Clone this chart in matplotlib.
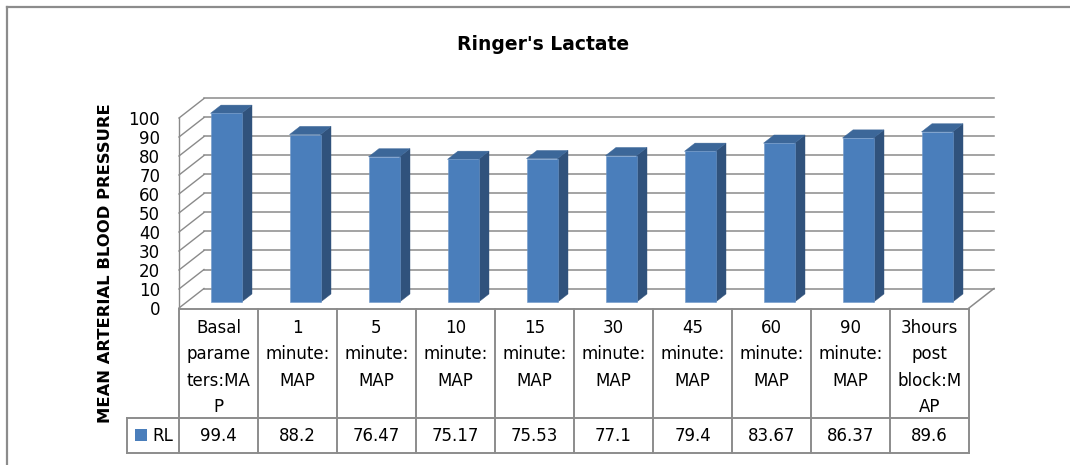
import matplotlib
matplotlib.use('Agg')
import matplotlib.pyplot as plt
from matplotlib.patches import Polygon, Rectangle
from matplotlib.lines import Line2D
from matplotlib.transforms import blended_transform_factory, IdentityTransform

# ---------------- data ----------------
categories = ["Basal\nparame\nters:MA\nP", "1\nminute:\nMAP", "5\nminute:\nMAP",
              "10\nminute:\nMAP", "15\nminute:\nMAP", "30\nminute:\nMAP",
              "45\nminute:\nMAP", "60\nminute:\nMAP", "90\nminute:\nMAP",
              "3hours\npost\nblock:M\nAP"]
values = [99.4, 88.2, 76.47, 75.17, 75.53, 77.1, 79.4, 83.67, 86.37, 89.6]
value_labels = ["99.4", "88.2", "76.47", "75.17", "75.53", "77.1", "79.4",
                "83.67", "86.37", "89.6"]
series_name = "RL"
title = "Ringer's Lactate"
ylabel = "MEAN ARTERIAL BLOOD PRESSURE"
yticks = list(range(0, 101, 10))

# ---------------- styling ----------------
W, H = 1070, 465
FRONT = '#4a7ebb'
TOP = '#3c6799'
SIDE = '#30527c'
GRID = '#8a8a8a'
BORDER = '#8c8c8c'

fig = plt.figure(figsize=(W / 100, H / 100), dpi=100)
fig.patch.set_facecolor('white')

# plotting axes: x categories, y values (front plane)
left_px, right_px, zero_px, top_px = 179, 969, 308, 118
ax = fig.add_axes([left_px / W, (H - zero_px) / H, (right_px - left_px) / W,
                   (zero_px - top_px) / H])
n = len(values)
ax.set_xlim(-0.5, n - 0.5)
ax.set_ylim(0, 100)
for s in ax.spines.values():
    s.set_visible(False)
ax.set_xticks([])
ax.set_yticks(yticks)
ax.set_yticklabels([str(t) for t in yticks])
ax.tick_params(axis='y', length=0, pad=13.5, labelsize=12, colors='black')
ax.patch.set_alpha(0)

col_px = (right_px - left_px) / n            # pixels per category
unit_px = (zero_px - top_px) / 100.0         # pixels per value unit
DX = 25 / col_px                             # depth offset (category units)
DY = 19.5 / unit_px                          # depth offset (value units)

# ---- walls / gridlines ----
for t in yticks:
    ax.add_line(Line2D([-0.5 + DX, n - 0.5 + DX], [t + DY, t + DY], color=GRID,
                       lw=1.1, clip_on=False, zorder=1))
    ax.add_line(Line2D([-0.5, -0.5 + DX], [t, t + DY], color=GRID, lw=1.0,
                       clip_on=False, zorder=1))
ax.add_line(Line2D([-0.5, -0.5], [0, 100], color=GRID, lw=1.0, clip_on=False, zorder=1))
ax.add_line(Line2D([n - 0.5, n - 0.5 + DX], [0, DY], color=GRID, lw=1.1,
                   clip_on=False, zorder=1))

# ---- 3D bars ----
d0, d1 = 0.3, 0.72
hw = 15.5 / col_px
for i, v in enumerate(values):
    xc = i + d0 * DX
    xl, xr = xc - hw, xc + hw
    y0 = d0 * DY
    ddx = (d1 - d0) * DX
    ddy = (d1 - d0) * DY
    side = Polygon([(xr, y0), (xr + ddx, y0 + ddy), (xr + ddx, v + y0 + ddy), (xr, v + y0)],
                   closed=True, facecolor=SIDE, edgecolor=SIDE, lw=0.3,
                   clip_on=False, zorder=3)
    top = Polygon([(xl, v + y0), (xr, v + y0), (xr + ddx, v + y0 + ddy), (xl + ddx, v + y0 + ddy)],
                  closed=True, facecolor=TOP, edgecolor=TOP, lw=0.3,
                  clip_on=False, zorder=3)
    front = Rectangle((xl, y0), 2 * hw, v, facecolor=FRONT, edgecolor='#6f97c9',
                      lw=0.4, clip_on=False, zorder=4)
    ax.add_patch(side)
    ax.add_patch(top)
    ax.add_patch(front)

# ---- data table ----
tr = blended_transform_factory(ax.transData, IdentityTransform())
def py(p):
    return H - p

tab_top, tab_mid, tab_bot = 309, 418, 453
leg_left = -0.5 - 52 / col_px
kw = dict(color=BORDER, lw=1.4, transform=tr, clip_on=False, zorder=5)
ax.add_line(Line2D([-0.5, n - 0.5], [py(tab_top)] * 2, **kw))
ax.add_line(Line2D([leg_left, n - 0.5], [py(tab_mid)] * 2, **kw))
ax.add_line(Line2D([leg_left, n - 0.5], [py(tab_bot)] * 2, **kw))
ax.add_line(Line2D([leg_left, leg_left], [py(tab_mid), py(tab_bot)], **kw))
for k in range(n + 1):
    ax.add_line(Line2D([k - 0.5, k - 0.5], [py(tab_top), py(tab_bot)], **kw))

line_step = 26.3
for i, cat in enumerate(categories):
    for j, part in enumerate(cat.split('\n')):
        ax.text(i, py(328 + j * line_step), part, transform=tr, ha='center',
                va='center', fontsize=12, clip_on=False)
    ax.text(i, py(436), value_labels[i], transform=tr, ha='center', va='center',
            fontsize=12, clip_on=False)

# legend key in table
ax.add_patch(Rectangle((leg_left + 8 / col_px, py(441)), 12 / col_px, 12,
                       transform=tr, facecolor=FRONT, edgecolor='none',
                       clip_on=False, zorder=6))
ax.text(leg_left + 25 / col_px, py(436), series_name, transform=tr, ha='left',
        va='center', fontsize=12, clip_on=False)

# ---- titles ----
fig.text(543 / W, 1 - 45 / H, title, ha='center', va='center', fontsize=13.5,
         fontweight='bold')
fig.text(106 / W, 1 - 263 / H, ylabel, ha='center', va='center', rotation=90,
         fontsize=11.8, fontweight='bold')

# ---- outer chart border ----
fig.add_artist(Line2D([7, 7], [py(7), 0], color=BORDER, lw=1.6,
                      transform=IdentityTransform()))
fig.add_artist(Line2D([7, W], [py(7), py(7)], color=BORDER, lw=1.6,
                      transform=IdentityTransform()))

fig.savefig('out.png', dpi=100, facecolor='white')
